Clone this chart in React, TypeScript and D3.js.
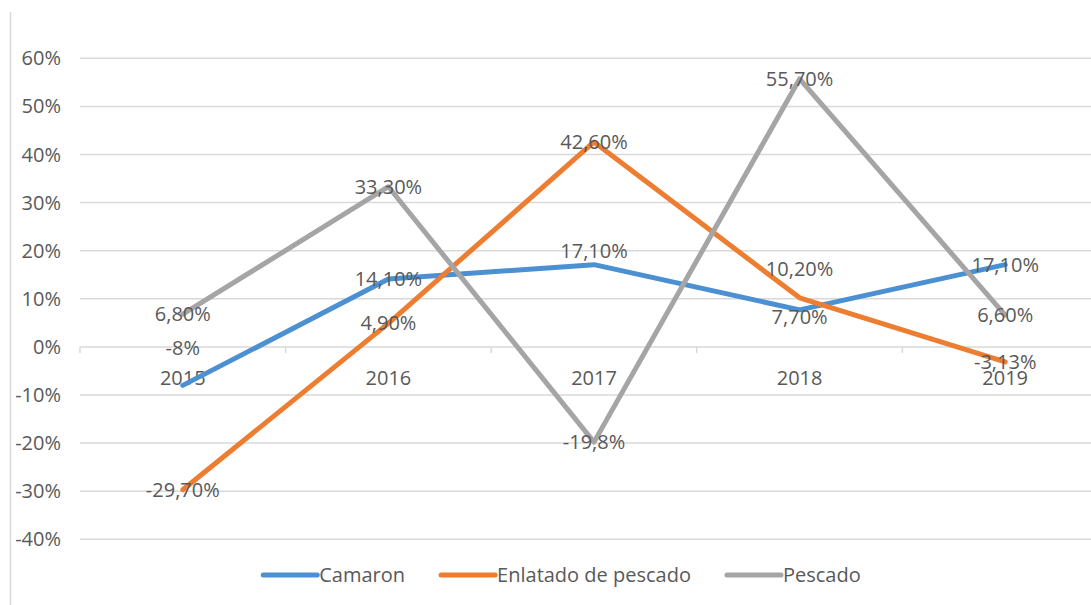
import React, { useEffect, useRef } from 'react';
import * as d3 from 'd3';

// chart data
const years = ['2015', '2016', '2017', '2018', '2019'];
const camaron = [-8, 14.1, 17.1, 7.7, 17.1];
const enlatado = [-29.7, 4.9, 42.6, 10.2, -3.13];
const pescado = [6.8, 33.3, -19.8, 55.7, 6.6];
const camaronLabels = ['-8%', '14,10%', '17,10%', '7,70%', '17,10%'];
const enlatadoLabels = ['-29,70%', '4,90%', '42,60%', '10,20%', '-3,13%'];
const pescadoLabels = ['6,80%', '33,30%', '-19,8%', '55,70%', '6,60%'];
const yTicks = [60, 50, 40, 30, 20, 10, 0, -10, -20, -30, -40];

const W = 1091;
const H = 605;
const FONT = '"Open Sans", sans-serif';
const TEXT = '#595959';
const GRID = '#d9d9d9';

const series = [
  { name: 'Camaron', values: camaron, labels: camaronLabels, color: '#4a90d2', shift: [-37, 0, -14, 7, 0] },
  { name: 'Enlatado de pescado', values: enlatado, labels: enlatadoLabels, color: '#ed7d31', shift: [0, 0, 0, -29, 0] },
  { name: 'Pescado', values: pescado, labels: pescadoLabels, color: '#a5a5a5', shift: [0, 0, 0, 0, 0] },
];

const App = () => {
  const svgRef = useRef<SVGSVGElement>(null);

  useEffect(() => {
    const svg = d3.select(svgRef.current);
    svg.selectAll('*').remove();

    const x = d3.scaleBand().domain(years).range([80, 1108]);
    const y = d3.scaleLinear().domain([-40, 60]).range([539.3, 58.3]);
    const cx = (d: string) => (x(d) as number) + x.bandwidth() / 2;

    // left border
    svg.append('line')
      .attr('x1', 10.5).attr('x2', 10.5).attr('y1', 12).attr('y2', H)
      .attr('stroke', GRID).attr('stroke-width', 1.5);

    // gridlines
    svg.append('g').selectAll('line')
      .data(yTicks)
      .enter().append('line')
      .attr('x1', 80).attr('x2', W)
      .attr('y1', d => y(d)).attr('y2', d => y(d))
      .attr('stroke', GRID).attr('stroke-width', 1.5);

    // y labels
    svg.append('g').selectAll('text')
      .data(yTicks)
      .enter().append('text')
      .attr('x', 61).attr('y', d => y(d))
      .attr('dy', '0.35em')
      .attr('text-anchor', 'end')
      .style('font-family', FONT).style('font-size', '20px')
      .attr('fill', TEXT)
      .text(d => d + '%');

    // category ticks on zero line
    const bounds = d3.range(years.length + 1).map(i => 80 + i * x.step());
    svg.append('g').selectAll('line')
      .data(bounds)
      .enter().append('line')
      .attr('x1', d => d).attr('x2', d => d)
      .attr('y1', y(0)).attr('y2', y(0) + 6)
      .attr('stroke', GRID).attr('stroke-width', 1.5);

    // category labels
    svg.append('g').selectAll('text')
      .data(years)
      .enter().append('text')
      .attr('x', d => cx(d)).attr('y', 378)
      .attr('dy', '0.35em')
      .attr('text-anchor', 'middle')
      .style('font-family', FONT).style('font-size', '20px')
      .attr('fill', TEXT)
      .text(d => d);

    const line = d3.line<number>()
      .x((d, i) => cx(years[i]))
      .y(d => y(d));

    series.forEach(s => {
      svg.append('path')
        .datum(s.values)
        .attr('d', line)
        .attr('fill', 'none')
        .attr('stroke', s.color)
        .attr('stroke-width', 5)
        .attr('stroke-linejoin', 'round')
        .attr('stroke-linecap', 'round');
    });

    // data labels
    series.forEach(s => {
      svg.append('g').selectAll('text')
        .data(s.values)
        .enter().append('text')
        .attr('x', (d, i) => cx(years[i]))
        .attr('y', (d, i) => y(d) + s.shift[i])
        .attr('dy', '0.35em')
        .attr('text-anchor', 'middle')
        .style('font-family', FONT).style('font-size', '20px')
        .attr('fill', TEXT)
        .text((d, i) => s.labels[i]);
    });

    // legend
    const legend = svg.append('g');
    let lx = 0;
    series.forEach(s => {
      const g = legend.append('g').attr('transform', `translate(${lx},0)`);
      g.append('line')
        .attr('x1', 0).attr('x2', 54).attr('y1', 0).attr('y2', 0)
        .attr('stroke', s.color).attr('stroke-width', 5)
        .attr('stroke-linecap', 'round');
      const t = g.append('text')
        .attr('x', 56).attr('y', 0).attr('dy', '0.35em')
        .style('font-family', FONT).style('font-size', '20px')
        .attr('fill', TEXT)
        .text(s.name);
      const tw = (t.node() as SVGTextElement).getComputedTextLength();
      lx += 56 + tw + 36;
    });
    const total = lx - 36;
    legend.attr('transform', `translate(${562 - total / 2},575)`);
  });

  return (
    <svg ref={svgRef} width={W} height={H} style={{ display: 'block', background: '#ffffff', position: 'absolute', left: 0, top: 0 }}></svg>
  );
};

export default App;
